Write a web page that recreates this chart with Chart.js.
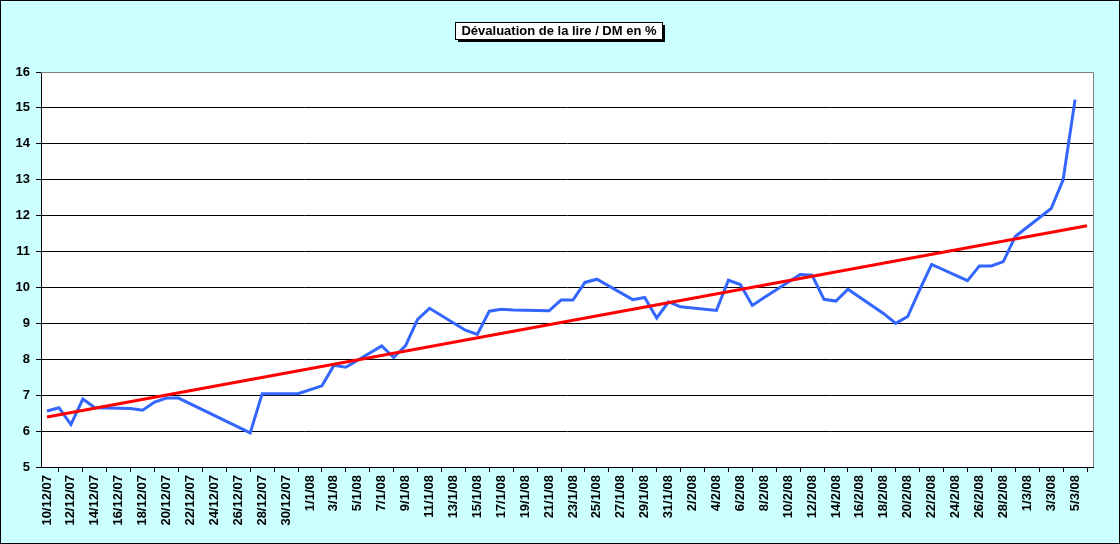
<!DOCTYPE html>
<html>
<head>
<meta charset="utf-8">
<title>Dévaluation de la lire / DM en %</title>
<script src="https://cdn.jsdelivr.net/npm/chart.js@4.4.1/dist/chart.umd.min.js"></script>
<style>
    html, body { margin: 0; padding: 0; background: #CCFFFF; }
    #wrap { width: 1120px; height: 544px; position: relative; }
</style>
</head>
<body>
<div id="wrap"><canvas id="chart"></canvas></div>
<script>
// --- DATA ---
const chartTitle = 'Dévaluation de la lire / DM en %';

const days = [
    '10/12/07', '11/12/07', '12/12/07', '13/12/07', '14/12/07', '15/12/07', '16/12/07', '17/12/07',
    '18/12/07', '19/12/07', '20/12/07', '21/12/07', '22/12/07', '23/12/07', '24/12/07', '25/12/07',
    '26/12/07', '27/12/07', '28/12/07', '29/12/07', '30/12/07', '31/12/07', '1/1/08', '2/1/08',
    '3/1/08', '4/1/08', '5/1/08', '6/1/08', '7/1/08', '8/1/08', '9/1/08', '10/1/08',
    '11/1/08', '12/1/08', '13/1/08', '14/1/08', '15/1/08', '16/1/08', '17/1/08', '18/1/08',
    '19/1/08', '20/1/08', '21/1/08', '22/1/08', '23/1/08', '24/1/08', '25/1/08', '26/1/08',
    '27/1/08', '28/1/08', '29/1/08', '30/1/08', '31/1/08', '1/2/08', '2/2/08', '3/2/08',
    '4/2/08', '5/2/08', '6/2/08', '7/2/08', '8/2/08', '9/2/08', '10/2/08', '11/2/08',
    '12/2/08', '13/2/08', '14/2/08', '15/2/08', '16/2/08', '17/2/08', '18/2/08', '19/2/08',
    '20/2/08', '21/2/08', '22/2/08', '23/2/08', '24/2/08', '25/2/08', '26/2/08', '27/2/08',
    '28/2/08', '29/2/08', '1/3/08', '2/3/08', '3/3/08', '4/3/08', '5/3/08', '6/3/08'
];

// one value per day, null where there is no quote (weekends, holidays)
const devaluation = [
    6.56, 6.65, 6.18, 6.89, 6.65, null, null, 6.63,
    6.58, 6.81, 6.92, 6.92, null, null, null, null,
    null, 5.95, 7.04, null, null, 7.04, null, 7.26,
    7.83, 7.78, null, null, 8.37, 8.05, 8.38, 9.11,
    9.42, null, null, 8.81, 8.69, 9.34, 9.39, 9.37,
    null, null, 9.35, 9.65, 9.65, 10.14, 10.23, null,
    null, 9.66, 9.72, 9.15, 9.60, 9.46, null, null,
    9.36, 10.20, 10.08, 9.50, 9.72, null, null, 10.36,
    10.34, 9.67, 9.62, 9.95, null, null, 9.27, 9.00,
    9.19, 9.93, 10.64, null, null, 10.19, 10.60, 10.60,
    10.72, 11.42, null, null, 12.20, 13.00, 15.23, null
];

// linear trend: only its two ends are given
const trendStart = 6.39;
const trendEnd = 11.72;
const trend = days.map((d, i) => i === 0 ? trendStart : (i === days.length - 1 ? trendEnd : null));

const yTicks = [5, 6, 7, 8, 9, 10, 11, 12, 13, 14, 15, 16];
// --- END DATA ---

const FONT = '"Liberation Sans", Arial, sans-serif';

// cyan background, frame, white plot area, gray top/right borders, title box
const excelLook = {
    id: 'excelLook',
    beforeDraw(chart) {
        const { ctx, chartArea: a, width, height } = chart;
        ctx.save();
        ctx.fillStyle = '#CCFFFF';
        ctx.fillRect(0, 0, width, height);
        ctx.fillStyle = '#FFFFFF';
        ctx.fillRect(a.left, a.top, a.right - a.left, a.bottom - a.top);
        ctx.restore();
    },
    afterDatasetsDraw(chart) {
        const { ctx, chartArea: a } = chart;
        ctx.save();
        ctx.strokeStyle = '#808080';
        ctx.lineWidth = 1;
        ctx.beginPath();
        ctx.moveTo(a.left, a.top + 0.5);
        ctx.lineTo(a.right + 0.5, a.top + 0.5);
        ctx.lineTo(a.right + 0.5, a.bottom);
        ctx.stroke();
        ctx.restore();
    },
    afterDraw(chart) {
        const { ctx, width, height } = chart;
        ctx.save();
        // outer frame
        ctx.strokeStyle = '#000';
        ctx.lineWidth = 1;
        ctx.strokeRect(0.5, 0.5, width - 1, height - 1);

        // title box with shadow
        ctx.font = 'bold 13px ' + FONT;
        const tw = ctx.measureText(chartTitle).width;
        const bw = Math.round(tw + 12), bh = 17;
        const bx = Math.round(558 - bw / 2), by = 22;
        ctx.fillStyle = '#000';
        ctx.fillRect(bx + 3, by + 3, bw, bh);
        ctx.fillStyle = '#FFF';
        ctx.fillRect(bx, by, bw, bh);
        ctx.strokeRect(bx + 0.5, by + 0.5, bw, bh);
        ctx.fillStyle = '#000';
        ctx.textAlign = 'center';
        ctx.textBaseline = 'middle';
        ctx.fillText(chartTitle, bx + bw / 2 + 0.5, by + bh / 2 + 1);
        ctx.restore();
    }
};

new Chart(document.getElementById('chart').getContext('2d'), {
    type: 'line',
    data: {
        labels: days,
        datasets: [
            {
                label: 'Dévaluation',
                data: devaluation,
                borderColor: '#3366FF',
                borderWidth: 3,
                pointRadius: 0,
                tension: 0,
                spanGaps: true,
                order: 2
            },
            {
                label: 'Tendance',
                data: trend,
                borderColor: '#FF0000',
                borderWidth: 3,
                pointRadius: 0,
                tension: 0,
                spanGaps: true,
                order: 1
            }
        ]
    },
    options: {
        responsive: true,
        maintainAspectRatio: false,
        animation: false,
        layout: { padding: { left: 0, top: 72, right: 27, bottom: 0 } },
        plugins: {
            legend: { display: false },
            title: { display: false },
            tooltip: { enabled: false }
        },
        scales: {
            x: {
                type: 'category',
                offset: true,
                afterFit: (s) => { s.height = 77; },
                grid: {
                    offset: true,
                    drawOnChartArea: false,
                    drawTicks: true,
                    tickLength: 5,
                    color: '#000'
                },
                border: { display: true, color: '#000', width: 1 },
                ticks: {
                    autoSkip: false,
                    minRotation: 90,
                    maxRotation: 90,
                    padding: 3,
                    color: '#000',
                    font: { family: FONT, size: 13, weight: 'bold' },
                    callback: function(val, idx) { return idx % 2 === 0 ? days[idx] : null; }
                }
            },
            y: {
                min: yTicks[0],
                max: yTicks[yTicks.length - 1],
                afterFit: (s) => { s.width = 41; },
                afterBuildTicks: (s) => { s.ticks = yTicks.map(v => ({ value: v })); },
                grid: {
                    color: (c) => c.tick && c.tick.value === 16 ? '#808080' : '#000',
                    lineWidth: 1,
                    drawTicks: true,
                    tickLength: 5,
                    tickColor: '#000'
                },
                border: { display: true, color: '#000', width: 1 },
                ticks: {
                    padding: 6,
                    color: '#000',
                    font: { family: FONT, size: 13, weight: 'bold' }
                }
            }
        }
    },
    plugins: [excelLook]
});
</script>
</body>
</html>
